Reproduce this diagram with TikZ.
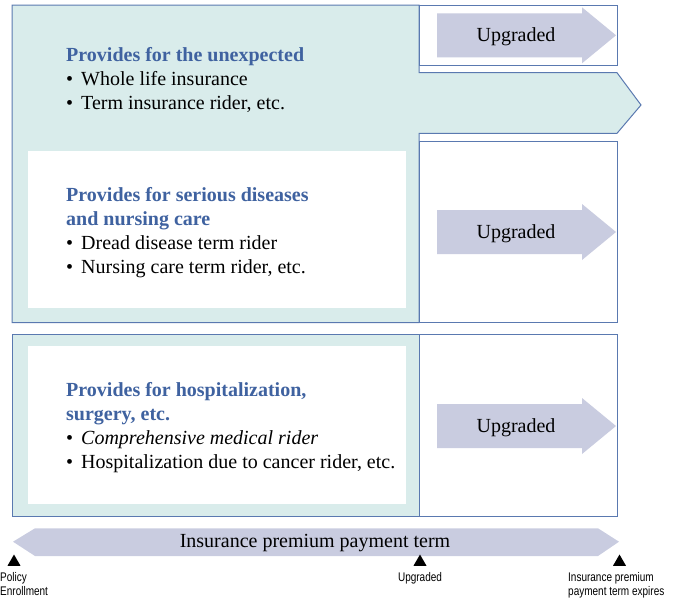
\documentclass[tikz,border=0pt]{standalone}
\usepackage{fontspec}
\setmainfont{Liberation Serif}
\newfontfamily\condfont[FakeStretch=0.8]{Liberation Sans}
\usepackage{xcolor}
\definecolor{tlTeal}{HTML}{D9ECEB}
\definecolor{tlEdge}{HTML}{5A79B0}
\definecolor{tlHead}{HTML}{3F62A0}
\definecolor{tlLilac}{HTML}{C9CCE0}
\usepackage{tikz}
\usetikzlibrary{positioning,shapes.geometric}

\newcommand{\boxfont}{\fontsize{20}{24}\selectfont}
\newcommand{\hd}[1]{\textcolor{tlHead}{\bfseries #1}}
\newcommand{\itm}{\textbullet\hspace{8pt}}

\begin{document}
\begin{tikzpicture}[
      x=1pt, y=-1pt,
      every node/.style={inner sep=0pt},
      band/.style={draw=tlEdge, line width=1pt, fill=tlTeal},
      slot/.style={draw=tlEdge, line width=1pt, fill=white},
      inner/.style={fill=white},
      upgfill/.style={fill=tlLilac},
      blk/.style={anchor=base west, align=left, font=\boxfont},
      upgtxt/.style={font=\boxfont},
      tmark/.style={regular polygon, regular polygon sides=3, fill=black,
                   minimum size=15pt},
      tick/.style={font=\condfont\fontsize{12.5}{13.5}\selectfont, align=left},
    ]
    \useasboundingbox (0,0) rectangle (677,600);

    % --- Upper block: whole life + serious diseases ---
    \draw[band] (12,5) -- (419,5) -- (419,72.7) -- (617,72.7) -- (641,105)
      -- (617,133.3) -- (419,133.3) -- (419,322.7) -- (12,322.7) -- cycle;
    \draw[slot] (419,5) rectangle (617,65.7);
    \draw[slot] (419,141.7) rectangle (617,322.7);
    \fill[inner] (28,151) rectangle (406,308.3);

    % --- Lower block: hospitalization ---
    \draw[band] (12,334.3) rectangle (419,516);
    \draw[slot] (419,334.3) rectangle (617,516);
    \fill[inner] (28,346) rectangle (406,504);

    % --- Coverage texts (base = last line) ---
    \node[blk] (unexp) at (66,109) {%
      \hd{Provides for the unexpected}\\
      \itm Whole life insurance\\
      \itm Term insurance rider, etc.%
    };
    \node[blk] (serious) at (66,273) {%
      \hd{Provides for serious diseases}\\
      \hd{and nursing care}\\
      \itm Dread disease term rider\\
      \itm Nursing care term rider, etc.%
    };
    \node[blk] (hosp) at (66,468) {%
      \hd{Provides for hospitalization,}\\
      \hd{surgery, etc.}\\
      \itm\textit{Comprehensive medical rider}\\
      \itm Hospitalization due to cancer rider, etc.%
    };

    % --- Upgrade arrows ---
    \foreach \yc/\nm in {35.3/top,232/mid,426/low}{
      \fill[upgfill] (437,\yc-22) -- (582,\yc-22) -- (582,\yc-28) -- (616,\yc)
        -- (582,\yc+28) -- (582,\yc+22) -- (437,\yc+22) -- cycle;
      \node[upgtxt] (upg-\nm) at (516,\yc+1.5) {Upgraded};
    }

    % --- Payment term ---
    \fill[upgfill] (13,541.7) -- (35,528.3) -- (598,528.3) -- (619,541.7)
      -- (598,556) -- (35,556) -- cycle;
    \node[upgtxt] (term) at (315,543.5) {Insurance premium payment term};

    % --- Time marks ---
    \node[tmark] (start) at (14,562) {};
    \node[tmark] (renew) at (420,562) {};
    \node[tmark] (expire) at (619.5,562) {};
    \node[tick, anchor=base west] (startlbl) at (0,595) {Policy\\Enrollment};
    \node[tick, anchor=base] (renewlbl) at (renew |- 0,581.7) {Upgraded};
    \node[tick, anchor=base west] (expirelbl) at (568,595)
      {Insurance premium\\payment term expires};

  \end{tikzpicture}
\end{document}
